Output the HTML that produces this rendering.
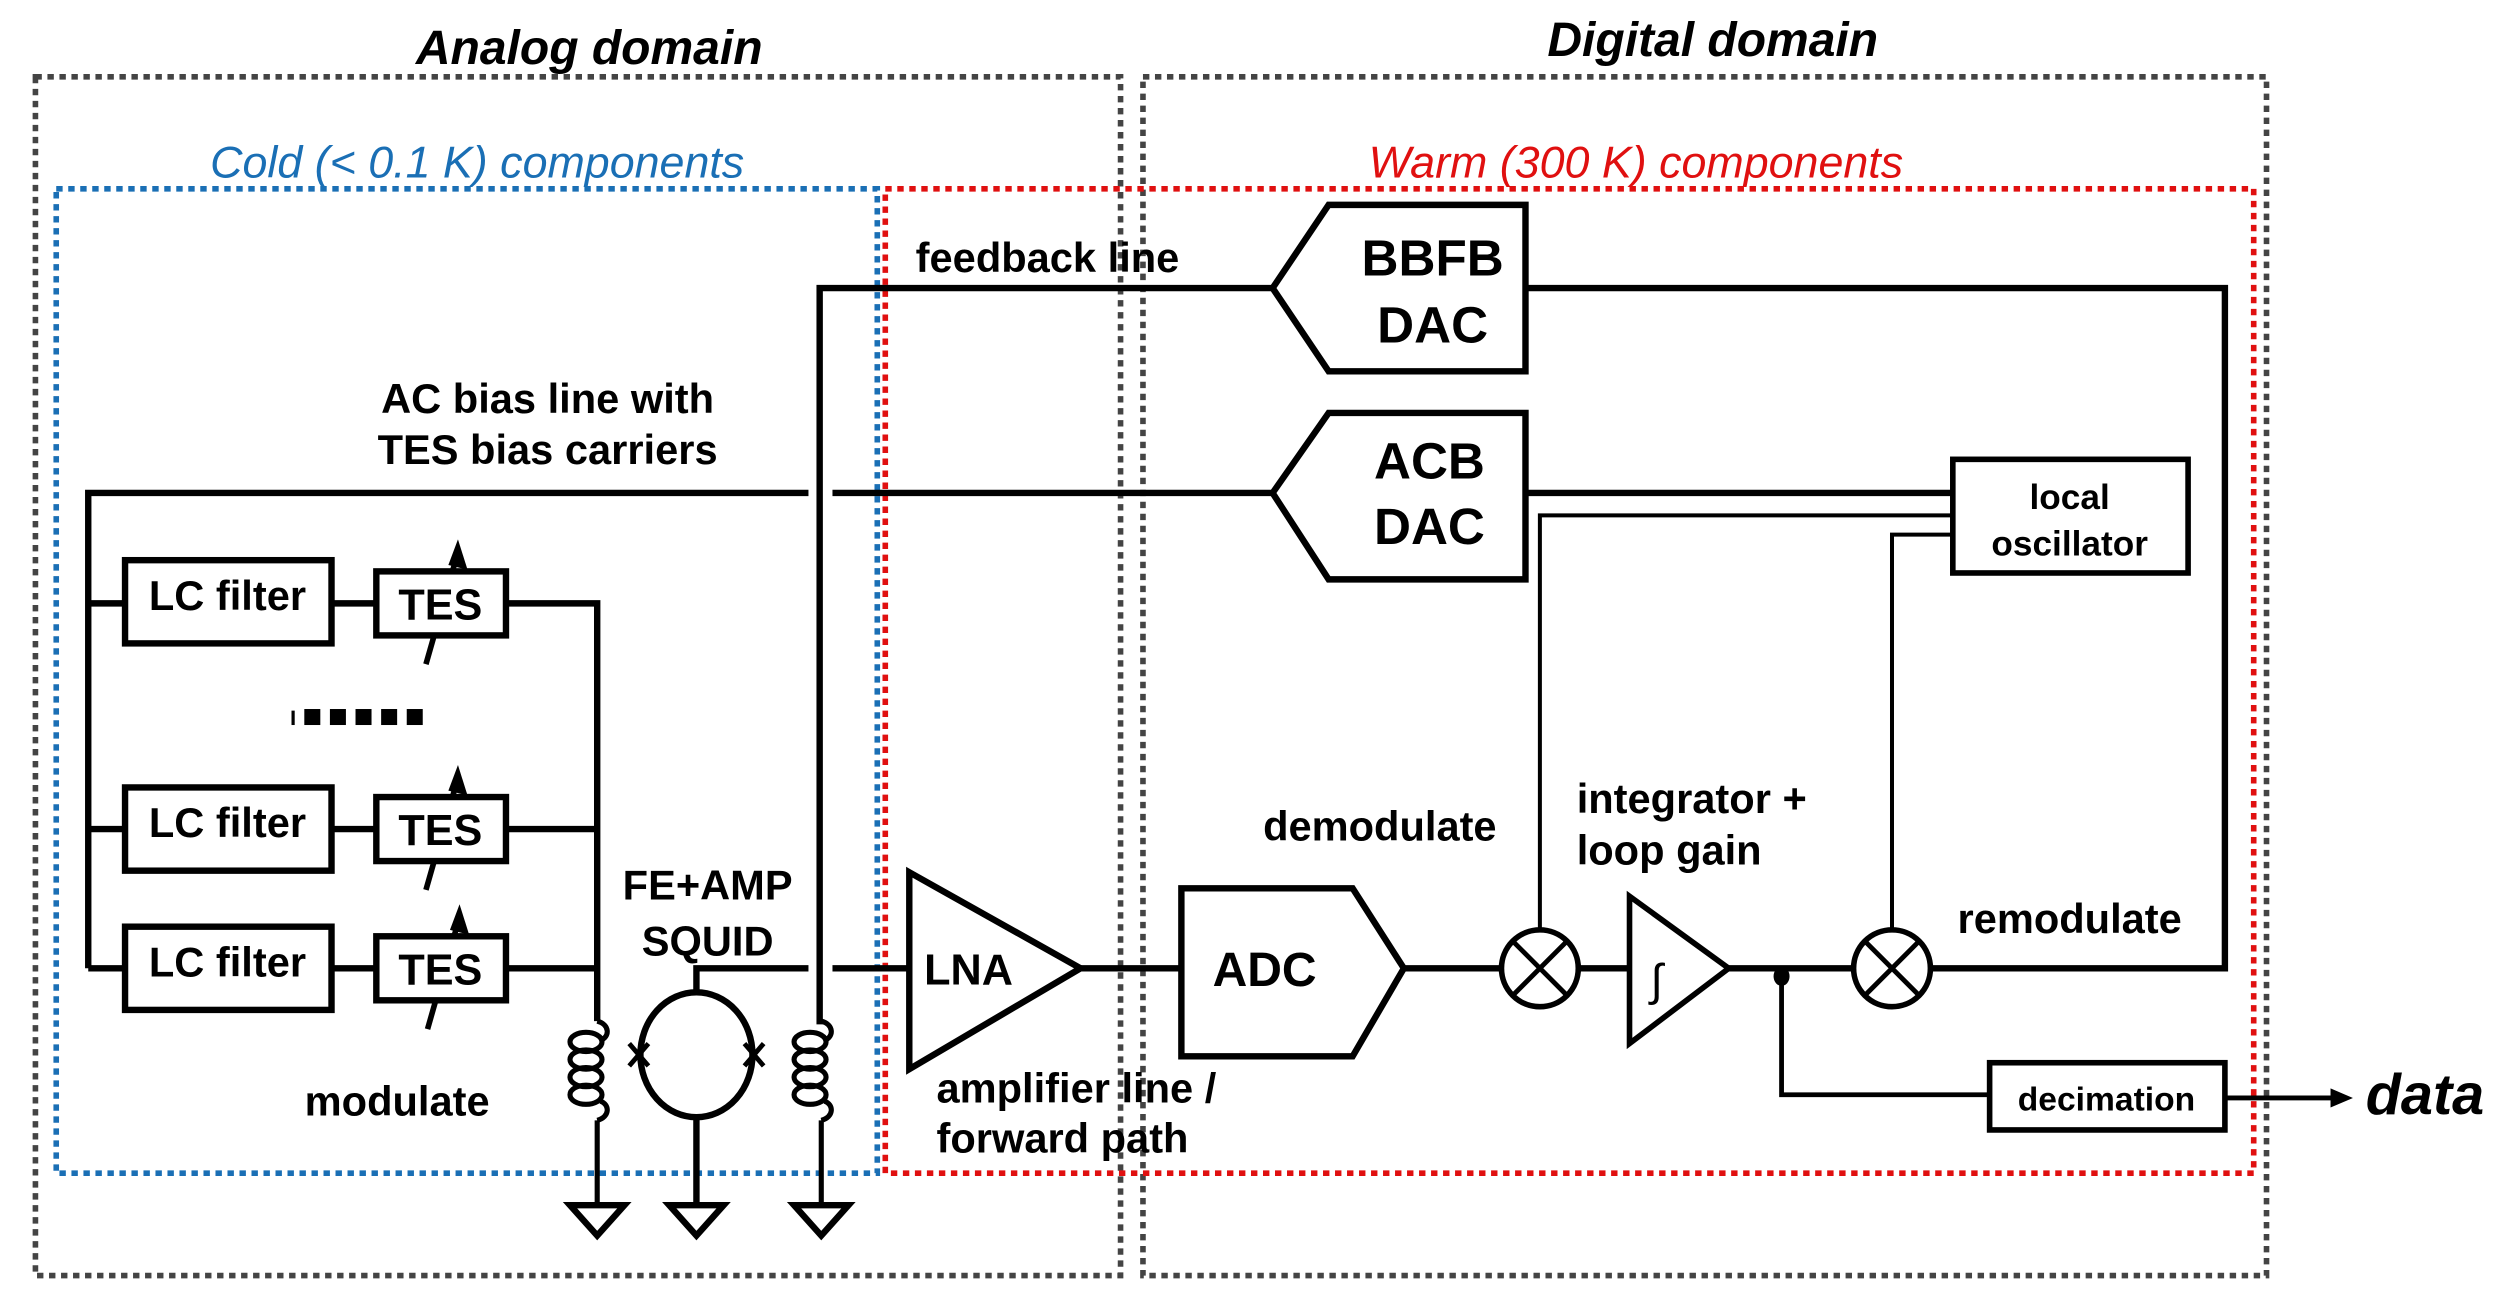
<!DOCTYPE html>
<html><head><meta charset="utf-8"><style>
html,body{margin:0;padding:0;background:#fff;}
svg{display:block;}
text{font-family:"Liberation Sans",Arial,sans-serif;font-weight:bold;}
</style></head><body>
<svg width="2510" height="1298" viewBox="0 0 1568 811" xmlns="http://www.w3.org/2000/svg">
<g fill="none" stroke-width="3.5" stroke-dasharray="4,3.5">
<rect x="22" y="48" width="678" height="749" stroke="#444"/>
<rect x="714" y="48" width="702" height="749" stroke="#444"/>
<rect x="35" y="118" width="513" height="615" stroke="#1a6fb5"/>
<rect x="553" y="118" width="855" height="615" stroke="#e01010"/>
</g>
<g font-style="italic" text-anchor="middle">
<text x="368" y="40" font-size="30">Analog domain</text>
<text x="1070" y="35" font-size="30">Digital domain</text>
<text x="298" y="111" font-size="28" fill="#1a6fb5" style="font-weight:normal">Cold (&lt; 0.1 K) components</text>
<text x="1022" y="111" font-size="28" fill="#e01010" style="font-weight:normal">Warm (300 K) components</text>
</g>
<g stroke="#000" stroke-width="4" fill="none">
<polyline points="512,640 512,180 795,180"/>
<polygon points="795,180 830,128 953,128 953,232 830,232" fill="#fff"/>
<polyline points="953,180 1390,180 1390,605 1205,605"/>
<polyline points="55,605 55,308 505,308"/>
<line x1="520" y1="308" x2="795" y2="308"/>
<polygon points="795,308 830,258 953,258 953,362 830,362" fill="#fff"/>
<line x1="953" y1="308" x2="1220" y2="308"/>
<rect x="1220" y="287" width="147" height="71" stroke-width="3.5"/>
<polyline points="1220,322 962,322 962,582" stroke-width="2.5"/>
<polyline points="1220,334 1182,334 1182,582" stroke-width="2.5"/>
<line x1="55" y1="377" x2="78" y2="377"/><line x1="55" y1="518" x2="78" y2="518"/><line x1="55" y1="605" x2="78" y2="605"/>
<rect x="78" y="350" width="129" height="52"/>
<rect x="78" y="492" width="129" height="52"/>
<rect x="78" y="579" width="129" height="52"/>
<line x1="207" y1="377" x2="235" y2="377"/><line x1="207" y1="518" x2="235" y2="518"/><line x1="207" y1="605" x2="235" y2="605"/>
<g stroke-width="3.5">
<line x1="266" y1="415" x2="284" y2="352"/><line x1="266" y1="556" x2="284" y2="493"/><line x1="267" y1="643" x2="285" y2="580"/>
</g>
<rect x="235" y="357" width="81" height="40" fill="#fff"/>
<rect x="235" y="498" width="81" height="40" fill="#fff"/>
<rect x="235" y="585" width="81" height="40" fill="#fff"/>
<polyline points="316,377 373,377 373,638"/>
<line x1="316" y1="518" x2="373" y2="518"/>
<line x1="316" y1="605" x2="373" y2="605"/>
<g stroke-width="3.2">
<path d="M373,638 c8,2 8,10 2,12 M373,700 c8,-2 8,-10 2,-12 M373,700 L373,752"/>
<ellipse cx="366" cy="651" rx="10" ry="6"/><ellipse cx="366" cy="662" rx="10" ry="6"/><ellipse cx="366" cy="673" rx="10" ry="6"/><ellipse cx="366" cy="684" rx="10" ry="6"/>
<path d="M513,638 c8,2 8,10 2,12 M513,700 c8,-2 8,-10 2,-12 M513,700 L513,752"/>
<ellipse cx="506" cy="651" rx="10" ry="6"/><ellipse cx="506" cy="662" rx="10" ry="6"/><ellipse cx="506" cy="673" rx="10" ry="6"/><ellipse cx="506" cy="684" rx="10" ry="6"/>
</g>
<ellipse cx="435" cy="659" rx="35" ry="39"/>
<polyline points="435,620 435,605 505,605"/>
<line x1="520" y1="605" x2="568" y2="605"/>
<line x1="435" y1="698" x2="435" y2="752"/>
<g stroke-width="3"><path d="M393,652 l12,14 M405,652 l-12,14 M465,652 l12,14 M477,652 l-12,14"/></g>
<polygon points="356,753 390,753 373,772"/>
<polygon points="418,753 452,753 435,772"/>
<polygon points="496,753 530,753 513,772"/>
<polygon points="568,545 675,605 568,668"/>
<line x1="675" y1="605" x2="738" y2="605"/>
<polygon points="738,555 845,555 877,605 845,660 738,660"/>
<line x1="877" y1="605" x2="938" y2="605"/>
<circle cx="962" cy="605" r="24" stroke-width="3.5"/>
<path d="M945,588 l34,34 M979,588 l-34,34" stroke-width="3"/>
<line x1="986" y1="605" x2="1018" y2="605"/>
<polygon points="1018,560 1080,605 1018,652" stroke-width="3.5"/>
<line x1="1080" y1="605" x2="1158" y2="605"/>
<circle cx="1182" cy="605" r="24" stroke-width="3.5"/>
<path d="M1165,588 l34,34 M1199,588 l-34,34" stroke-width="3"/>
<polyline points="1113,610 1113,684 1243,684" stroke-width="3"/>
<rect x="1243" y="664" width="147" height="42" stroke-width="3.5"/>
<line x1="1390" y1="686" x2="1458" y2="686" stroke-width="3"/>
</g>
<g fill="#000">
<polygon points="286,337 292,356 280,353"/>
<polygon points="286,478 292,497 280,494"/>
<polygon points="287,565 293,584 281,581"/>
</g>
<ellipse cx="1113" cy="610" rx="5" ry="6" fill="#000"/>
<polygon points="1456,680 1470,686 1456,692" fill="#000"/>
<g fill="#000">
<rect x="182" y="444" width="2" height="9"/><rect x="190" y="443" width="10" height="10"/><rect x="206" y="443" width="10" height="10"/><rect x="222" y="443" width="10" height="10"/><rect x="238" y="443" width="10" height="10"/><rect x="254" y="443" width="10" height="10"/>
</g>
<g font-size="26">
<text x="572" y="170">feedback line</text>
<text x="895" y="172" text-anchor="middle" font-size="32">BBFB</text>
<text x="895" y="214" text-anchor="middle" font-size="32">DAC</text>
<text x="893" y="299" text-anchor="middle" font-size="32">ACB</text>
<text x="893" y="340" text-anchor="middle" font-size="32">DAC</text>
<text x="342" y="258" text-anchor="middle">AC bias line with</text>
<text x="342" y="290" text-anchor="middle">TES bias carriers</text>
<text x="142" y="381" text-anchor="middle">LC filter</text>
<text x="142" y="523" text-anchor="middle">LC filter</text>
<text x="142" y="610" text-anchor="middle">LC filter</text>
<text x="275" y="387" text-anchor="middle" font-size="27">TES</text>
<text x="275" y="528" text-anchor="middle" font-size="27">TES</text>
<text x="275" y="615" text-anchor="middle" font-size="27">TES</text>
<text x="442" y="562" text-anchor="middle">FE+AMP</text>
<text x="442" y="597" text-anchor="middle">SQUID</text>
<text x="248" y="697" text-anchor="middle">modulate</text>
<text x="605" y="615" text-anchor="middle" font-size="27">LNA</text>
<text x="790" y="616" text-anchor="middle" font-size="30">ADC</text>
<text x="585" y="689">amplifier line /</text>
<text x="585" y="720">forward path</text>
<text x="862" y="525" text-anchor="middle">demodulate</text>
<text x="985" y="508">integrator +</text>
<text x="985" y="540">loop gain</text>
<text x="1293" y="583" text-anchor="middle">remodulate</text>
<text x="1293" y="318" text-anchor="middle" font-size="22">local</text>
<text x="1293" y="347" text-anchor="middle" font-size="22">oscillator</text>
<text x="1316" y="694" text-anchor="middle" font-size="21">decimation</text>
<text x="1515" y="696" text-anchor="middle" font-size="36" font-style="italic">data</text>
<text x="1035" y="622" text-anchor="middle" font-size="28" style="font-weight:normal">∫</text>
</g>
</svg>
</body></html>
